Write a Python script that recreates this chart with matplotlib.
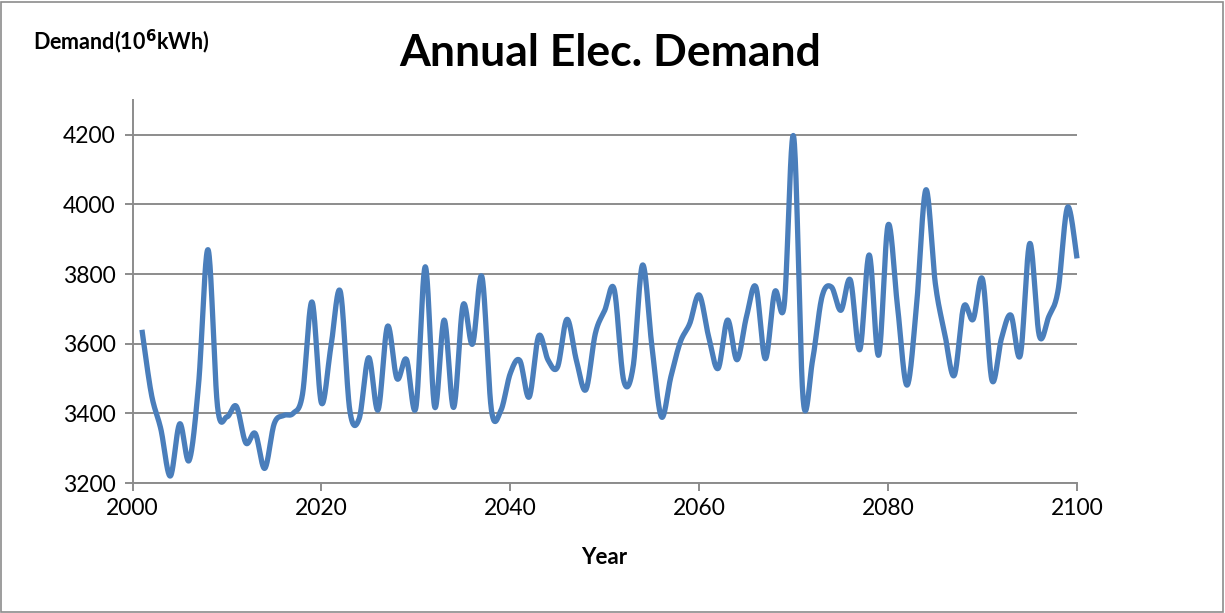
import numpy as np
import matplotlib
matplotlib.use("Agg")
import matplotlib.pyplot as plt
from matplotlib.patches import Rectangle

plt.rcParams['font.family'] = ['Lato', 'DejaVu Sans']

years = list(range(2001, 2101))
demand = [
    3640, 3455, 3355, 3220, 3370, 3265, 3485, 3870, 3420, 3390,
    3420, 3315, 3342, 3242, 3370, 3394, 3400, 3455, 3720, 3430,
    3590, 3750, 3410, 3385, 3560, 3410, 3650, 3500, 3555, 3416,
    3821, 3418, 3668, 3417, 3711, 3599, 3792, 3410, 3408, 3515,
    3552, 3447, 3622, 3553, 3533, 3670, 3552, 3468, 3629, 3696,
    3756, 3495, 3533, 3826, 3591, 3390, 3505, 3605, 3658, 3740,
    3620, 3529, 3668, 3554, 3677, 3763, 3557, 3749, 3711, 4195,
    3442, 3552, 3735, 3763, 3696, 3783, 3583, 3855, 3567, 3941,
    3706, 3481, 3706, 4042, 3773, 3629, 3509, 3706, 3670, 3785,
    3495, 3615, 3682, 3567, 3888, 3624, 3677, 3754, 3992, 3845,
]
x_ticks = [2000, 2020, 2040, 2060, 2080, 2100]
y_ticks = [3200, 3400, 3600, 3800, 4000, 4200]


def smooth_curve(xs, ys, steps=24):
    """Cubic Bezier smoothing through every point (Catmull-Rom style)."""
    xs = np.asarray(xs, float)
    ys = np.asarray(ys, float)
    px = np.concatenate([[xs[0]], xs, [xs[-1]]])
    py = np.concatenate([[ys[0]], ys, [ys[-1]]])
    out_x, out_y = [], []
    t = np.linspace(0, 1, steps, endpoint=False)
    for i in range(1, len(px) - 2):
        p0 = np.array([px[i], py[i]])
        p3 = np.array([px[i + 1], py[i + 1]])
        c1 = p0 + (np.array([px[i + 1], py[i + 1]]) - np.array([px[i - 1], py[i - 1]])) / 6
        c2 = p3 - (np.array([px[i + 2], py[i + 2]]) - np.array([px[i], py[i]])) / 6
        b = ((1 - t) ** 3)[:, None] * p0 + (3 * (1 - t) ** 2 * t)[:, None] * c1 \
            + (3 * (1 - t) * t ** 2)[:, None] * c2 + (t ** 3)[:, None] * p3
        out_x.extend(b[:, 0])
        out_y.extend(b[:, 1])
    out_x.append(xs[-1])
    out_y.append(ys[-1])
    return np.array(out_x), np.array(out_y)


fig = plt.figure(figsize=(12.25, 6.13), dpi=100)
fig.patches.append(Rectangle((0.001, 0.001), 0.997, 0.996, transform=fig.transFigure,
                             fill=False, edgecolor='#8c8c8c', linewidth=1.2))

ax = fig.add_axes([132.5 / 1225, 1 - 483 / 613, (1077 - 132.5) / 1225, (483 - 100) / 613])
ax.set_xlim(2000, 2100)
ax.set_ylim(3200, 4300)

sx, sy = smooth_curve(years, demand)
ax.plot(sx, sy, color='#4a7ebb', linewidth=3.8, solid_capstyle='butt', zorder=3, clip_on=False)

ax.set_xticks(x_ticks)
ax.set_yticks(y_ticks)
ax.grid(axis='y', color='#8c8c8c', linewidth=1.4, zorder=1)
for s in ['top', 'right']:
    ax.spines[s].set_visible(False)
for s in ['left', 'bottom']:
    ax.spines[s].set_color('#8c8c8c')
    ax.spines[s].set_linewidth(1.4)
ax.tick_params(axis='both', direction='out', length=6, width=1.4, color='#8c8c8c',
               labelsize=16.5, labelcolor='black')
ax.tick_params(axis='y', pad=6)
ax.tick_params(axis='x', pad=5)

fig.text(610 / 1225, 1 - 53 / 613, 'Annual Elec. Demand', ha='center', va='center',
         fontsize=32, fontweight='bold')
fig.text(604 / 1225, 1 - 558 / 613, 'Year', ha='center', va='center',
         fontsize=16, fontweight='bold')
fig.text(33 / 1225, 1 - 42 / 613, 'Demand(10$^{\\mathbf{6}}$kWh)', ha='left', va='center',
         fontsize=15.5, fontweight='bold')

fig.savefig('out.png', dpi=100)
